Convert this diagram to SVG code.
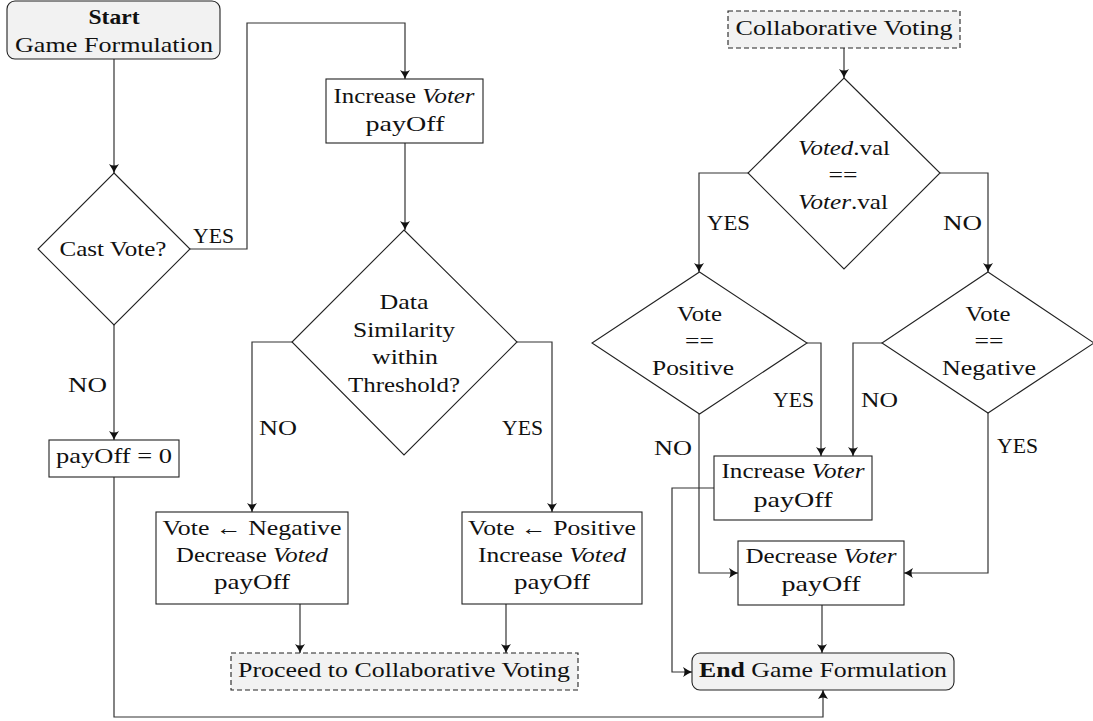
<svg xmlns="http://www.w3.org/2000/svg" width="1093" height="721" viewBox="0 0 1093 721">
<defs>
<style>
text{font-family:"Liberation Serif","Times New Roman",serif;font-size:22px;fill:#111;text-anchor:middle}
text.l{text-anchor:start}
.b{font-weight:bold}
.i{font-style:italic}
.box{fill:#fff;stroke:#222;stroke-width:1.1}
.term{fill:#f2f2f2;stroke:#222;stroke-width:1.1}
.dash{fill:#f2f2f2;stroke:#222;stroke-width:1.1;stroke-dasharray:5 3}
.dia{fill:#fff;stroke:#222;stroke-width:1.1}
#connectors path{fill:none;stroke:#333;stroke-width:1.2;marker-end:url(#arr)}
</style>
<marker id="arr" viewBox="-10 -6 11 12" refX="0" refY="0" markerWidth="11" markerHeight="12" markerUnits="userSpaceOnUse" orient="auto">
<path d="M0,0 Q-4,-1.5 -9,-5 Q-6,0 -9,5 Q-4,1.5 0,0Z" fill="#111"/>
</marker>
</defs>
<rect width="1093" height="721" fill="#fff"/>

<g id="connectors">
<path d="M114,59 V173"/>
<path d="M190,249 H247 V23 H405 V79"/>
<path d="M114,325 V440"/>
<path d="M405,143 V230"/>
<path d="M292,342 H252 V512"/>
<path d="M517,342 H552 V512"/>
<path d="M300,604 V653"/>
<path d="M506,604 V653"/>
<path d="M114,477 V717 H823 V690"/>
<path d="M844,48 V78"/>
<path d="M748,173 H699 V272"/>
<path d="M940,173 H988 V272"/>
<path d="M807,343 H821 V456"/>
<path d="M699,414 V573 H738"/>
<path d="M882,343 H853 V456"/>
<path d="M988,413 V573 H904"/>
<path d="M714,488 H672 V672 H692"/>
<path d="M822,605 V653"/>
</g>

<g id="labels">
<text class="l" x="193" y="243" textLength="41" lengthAdjust="spacingAndGlyphs">YES</text>
<text class="l" x="68" y="392" textLength="39" lengthAdjust="spacingAndGlyphs">NO</text>
<text class="l" x="259" y="435" textLength="38" lengthAdjust="spacingAndGlyphs">NO</text>
<text class="l" x="502" y="435" textLength="41" lengthAdjust="spacingAndGlyphs">YES</text>
<text class="l" x="707" y="230" textLength="43" lengthAdjust="spacingAndGlyphs">YES</text>
<text class="l" x="943" y="230" textLength="39" lengthAdjust="spacingAndGlyphs">NO</text>
<text class="l" x="773" y="407" textLength="41" lengthAdjust="spacingAndGlyphs">YES</text>
<text class="l" x="861" y="407" textLength="37" lengthAdjust="spacingAndGlyphs">NO</text>
<text class="l" x="654" y="455" textLength="38" lengthAdjust="spacingAndGlyphs">NO</text>
<text class="l" x="997" y="453" textLength="41" lengthAdjust="spacingAndGlyphs">YES</text>
</g>

<g id="start">
<rect class="term" x="7" y="1" width="213" height="58" rx="8"/>
<text class="b" x="114" y="24" textLength="51" lengthAdjust="spacingAndGlyphs">Start</text>
<text x="114" y="52" textLength="198" lengthAdjust="spacingAndGlyphs">Game Formulation</text>
</g>

<g id="castvote">
<polygon class="dia" points="114,173 190,249 114,325 38,249"/>
<text x="113" y="256" textLength="107" lengthAdjust="spacingAndGlyphs">Cast Vote?</text>
</g>

<g id="payoff0">
<rect class="box" x="49" y="440" width="130" height="37"/>
<text x="114" y="463" textLength="116" lengthAdjust="spacingAndGlyphs">payOff = 0</text>
</g>

<g id="increaseVoter1">
<rect class="box" x="326" y="79" width="157" height="64"/>
<text x="404" y="103" textLength="141" lengthAdjust="spacingAndGlyphs">Increase <tspan class="i">Voter</tspan></text>
<text x="405" y="131" textLength="79" lengthAdjust="spacingAndGlyphs">payOff</text>
</g>

<g id="similarity">
<polygon class="dia" points="404,230 517,342 404,455 292,342"/>
<text x="404" y="309" textLength="49" lengthAdjust="spacingAndGlyphs">Data</text>
<text x="404" y="337" textLength="102" lengthAdjust="spacingAndGlyphs">Similarity</text>
<text x="405" y="364" textLength="66" lengthAdjust="spacingAndGlyphs">within</text>
<text x="404" y="392" textLength="112" lengthAdjust="spacingAndGlyphs">Threshold?</text>
</g>

<g id="voteNegative">
<rect class="box" x="156" y="512" width="192" height="92"/>
<text x="252" y="535" textLength="179" lengthAdjust="spacingAndGlyphs">Vote ← Negative</text>
<text x="252" y="562" textLength="152" lengthAdjust="spacingAndGlyphs">Decrease <tspan class="i">Voted</tspan></text>
<text x="252" y="589" textLength="76" lengthAdjust="spacingAndGlyphs">payOff</text>
</g>

<g id="votePositive">
<rect class="box" x="462" y="512" width="180" height="92"/>
<text x="552" y="535" textLength="168" lengthAdjust="spacingAndGlyphs">Vote ← Positive</text>
<text x="552" y="562" textLength="148" lengthAdjust="spacingAndGlyphs">Increase <tspan class="i">Voted</tspan></text>
<text x="552" y="589" textLength="76" lengthAdjust="spacingAndGlyphs">payOff</text>
</g>

<g id="proceed">
<rect class="dash" x="231" y="653" width="347" height="37"/>
<text x="404" y="677" textLength="332" lengthAdjust="spacingAndGlyphs">Proceed to Collaborative Voting</text>
</g>

<g id="collab">
<rect class="dash" x="728" y="11" width="232" height="37"/>
<text x="844" y="35" textLength="217" lengthAdjust="spacingAndGlyphs">Collaborative Voting</text>
</g>

<g id="votedEqVoter">
<polygon class="dia" points="844,78 940,173 844,269 748,173"/>
<text x="844" y="155" textLength="92" lengthAdjust="spacingAndGlyphs"><tspan class="i">Voted</tspan>.val</text>
<text x="843" y="182" textLength="29" lengthAdjust="spacingAndGlyphs">==</text>
<text x="843" y="209" textLength="90" lengthAdjust="spacingAndGlyphs"><tspan class="i">Voter</tspan>.val</text>
</g>

<g id="votePositiveQ">
<polygon class="dia" points="699.5,272 807,343 699.5,414 592,343"/>
<text x="699.5" y="321" textLength="45" lengthAdjust="spacingAndGlyphs">Vote</text>
<text x="699.5" y="348" textLength="29" lengthAdjust="spacingAndGlyphs">==</text>
<text x="693" y="375" textLength="82" lengthAdjust="spacingAndGlyphs">Positive</text>
</g>

<g id="voteNegativeQ">
<polygon class="dia" points="988,272 1094,343 988,413 882,343"/>
<text x="988" y="321" textLength="45" lengthAdjust="spacingAndGlyphs">Vote</text>
<text x="989" y="348" textLength="29" lengthAdjust="spacingAndGlyphs">==</text>
<text x="989" y="375" textLength="94" lengthAdjust="spacingAndGlyphs">Negative</text>
</g>

<g id="increaseVoter2">
<rect class="box" x="714" y="456" width="158" height="64"/>
<text x="793" y="478" textLength="143" lengthAdjust="spacingAndGlyphs">Increase <tspan class="i">Voter</tspan></text>
<text x="793" y="507" textLength="79" lengthAdjust="spacingAndGlyphs">payOff</text>
</g>

<g id="decreaseVoter">
<rect class="box" x="738" y="541" width="166" height="64"/>
<text x="821" y="563" textLength="151" lengthAdjust="spacingAndGlyphs">Decrease <tspan class="i">Voter</tspan></text>
<text x="821" y="591" textLength="79" lengthAdjust="spacingAndGlyphs">payOff</text>
</g>

<g id="end">
<rect class="term" x="692" y="653" width="262" height="37" rx="8"/>
<text x="823" y="677" textLength="248" lengthAdjust="spacingAndGlyphs"><tspan class="b">End</tspan> Game Formulation</text>
</g>
</svg>
